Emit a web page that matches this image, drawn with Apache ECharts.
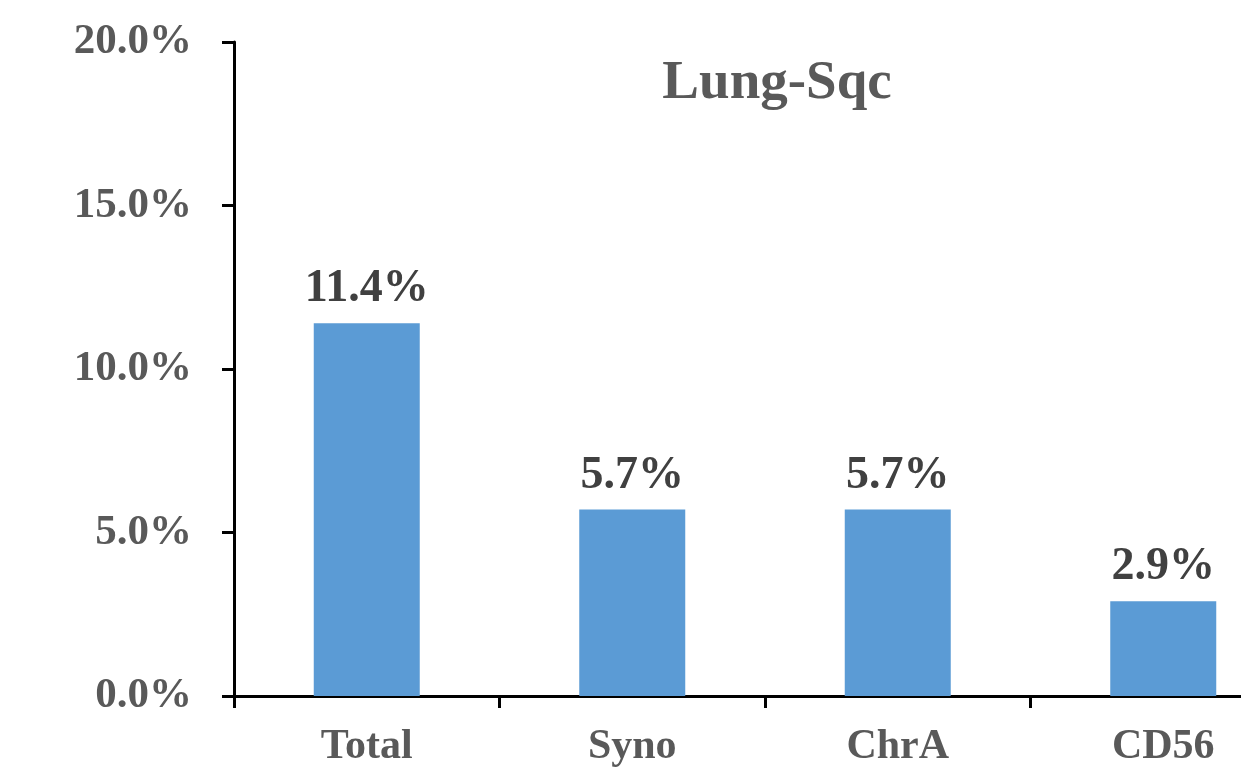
<!DOCTYPE html>
<html>
<head>
<meta charset="utf-8">
<script src="https://cdn.jsdelivr.net/npm/echarts@6/dist/echarts.min.js"></script>
<style>
  html, body { margin: 0; padding: 0; background: #ffffff; overflow: hidden; }
  /* the plot area runs past the right edge of the window, so the canvas is wider than the view */
  #chart { width: 1300px; height: 768px; }
</style>
</head>
<body>
<div id="chart"></div>
<script>
// Neuroendocrine marker positivity in lung squamous cell carcinoma
const categories = ['Total', 'Syno', 'ChrA', 'CD56'];
const positiveRate = [11.4, 5.7, 5.7, 2.9];
const yTicks = [0, 5, 10, 15, 20];
const titleText = 'Lung-Sqc';

const serif = '"Liberation Serif", "Times New Roman", serif';

const chart = echarts.init(document.getElementById('chart'), null, { renderer: 'canvas' });

chart.setOption({
  backgroundColor: '#ffffff',
  animation: false,
  title: {
    text: titleText,
    left: 772,
    textAlign: 'center',
    top: 51,
    textStyle: {
      fontFamily: serif,
      fontWeight: 'bold',
      fontSize: 55,
      color: '#595959'
    }
  },
  grid: {
    left: 234,
    width: 1062,
    top: 42,
    bottom: 71,
    containLabel: false
  },
  xAxis: {
    type: 'category',
    data: categories,
    axisLine: { lineStyle: { color: '#000000', width: 3 } },
    axisTick: { show: true, length: 12, lineStyle: { color: '#000000', width: 3 } },
    axisLabel: {
      margin: 30,
      fontFamily: serif,
      fontWeight: 'bold',
      fontSize: 42,
      color: '#595959'
    }
  },
  yAxis: {
    type: 'value',
    min: yTicks[0],
    max: yTicks[yTicks.length - 1],
    interval: yTicks[1] - yTicks[0],
    splitLine: { show: false },
    axisLine: { show: true, lineStyle: { color: '#000000', width: 3 } },
    axisTick: { show: true, length: 12, lineStyle: { color: '#000000', width: 3 } },
    axisLabel: {
      margin: 42,
      fontFamily: serif,
      fontWeight: 'bold',
      fontSize: 43,
      color: '#595959',
      formatter: v => v.toFixed(1) + '%'
    }
  },
  series: [{
    type: 'bar',
    data: positiveRate,
    barWidth: 106,
    itemStyle: { color: '#5B9BD5' },
    label: {
      show: true,
      position: 'top',
      distance: 11,
      fontFamily: serif,
      fontWeight: 'bold',
      fontSize: 46,
      color: '#404040',
      formatter: p => p.value.toFixed(1) + '%'
    }
  }]
});
</script>
</body>
</html>
